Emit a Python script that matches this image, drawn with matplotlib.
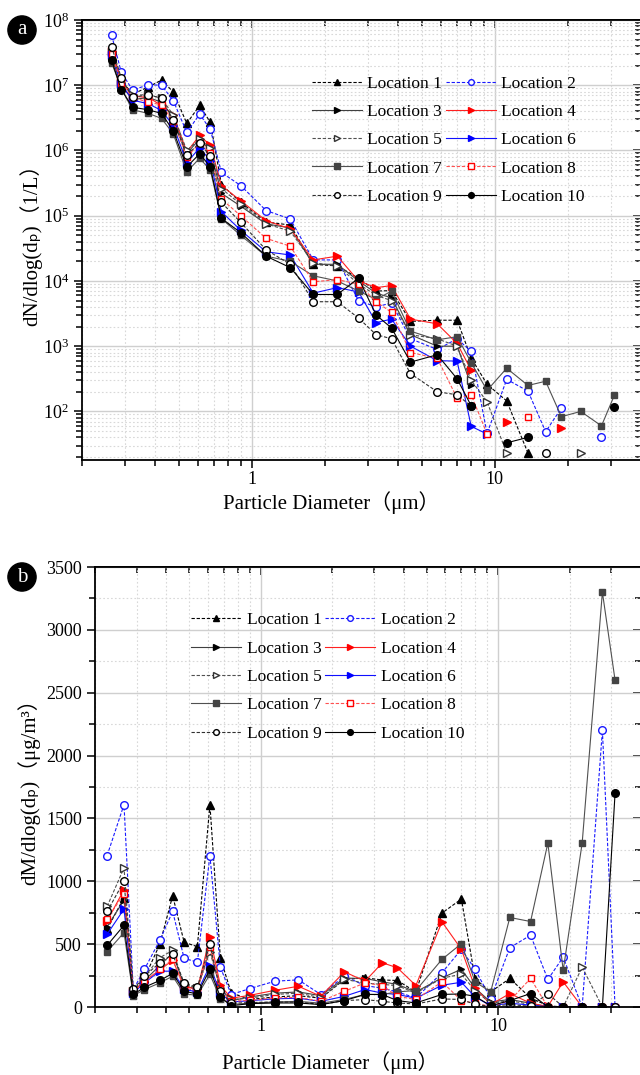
import numpy as np
import matplotlib
matplotlib.use('Agg')
import matplotlib.pyplot as plt
from matplotlib.ticker import LogLocator, MultipleLocator, NullFormatter, FuncFormatter

plt.rcParams['font.family'] = ['Liberation Serif', 'Noto Sans CJK SC', 'DejaVu Sans']
plt.rcParams['mathtext.fontset'] = 'custom'
plt.rcParams['mathtext.rm'] = 'Liberation Serif'
plt.rcParams['mathtext.it'] = 'Liberation Serif:italic'

nan = np.nan

# ---------------- data ----------------
labels = ['Location %d' % i for i in range(1, 11)]

# panel a: number size distribution
dia_a = [0.265, 0.29, 0.323, 0.375, 0.425, 0.475, 0.54, 0.61, 0.675, 0.75, 0.9, 1.145, 1.44,
         1.79, 2.25, 2.75, 3.25, 3.76, 4.5, 5.8, 7.0, 8.0, 9.3, 11.2, 13.7, 16.2, 18.8, 22.6, 27.5, 31.1]

num_1 = [3.5e7, 1.2e7, 7.3e6, 9.4e6, 1.2e7, 7.9e6, 2.6e6, 4.9e6, 2.7e6, 3.0e5, 1.6e5, 8.0e4, 7.2e4,
         1.8e4, 1.7e4, 1.1e4, 7.0e3, 7.1e3, 2.4e3, 2.5e3, 2.5e3, 660, 260, 145, 23, nan, nan, nan, nan, nan]
num_2 = [5.8e7, 1.6e7, 8.4e6, 1.02e7, 1.0e7, 5.8e6, 1.9e6, 3.6e6, 2.1e6, 4.6e5, 2.9e5, 1.2e5, 8.9e4,
         2.1e4, 2.1e4, 5.0e3, 4.0e3, 4.6e3, 1.3e3, 890, 1.3e3, 830, 46, 310, 205, 49, 112, nan, 41, nan]
num_3 = [2.7e7, 1.0e7, 6.0e6, 6.5e6, 5.5e6, 3.2e6, 9.0e5, 1.5e6, 1.0e6, 2.2e5, 1.4e5, 7.5e4, 6.5e4,
         1.8e4, 1.8e4, 1.0e4, 6.5e3, 5.5e3, 1.5e3, 1.0e3, 1.0e3, 250, nan, nan, nan, nan, nan, nan, nan, nan]
num_4 = [3.3e7, 1.2e7, 6.8e6, 6.5e6, 4.9e6, 3.5e6, 9.5e5, 1.7e6, 1.2e6, 2.9e5, 1.7e5, 8.4e4, 6.3e4,
         2.1e4, 2.4e4, 1.0e4, 7.9e3, 8.5e3, 2.6e3, 2.2e3, 1.1e3, 430, nan, 68, nan, nan, 55, nan, nan, nan]
num_5 = [3.2e7, 1.1e7, 7.0e6, 7.2e6, 6.3e6, 3.5e6, 1.0e6, 1.5e6, 1.1e6, 2.6e5, 1.5e5, 7.5e4, 5.8e4,
         1.9e4, 1.7e4, 9.0e3, 6.0e3, 5.0e3, 1.5e3, 1.3e3, 1.0e3, 300, 140, 23, nan, nan, nan, 23, nan, nan]
num_6 = [2.9e7, 1.05e7, 5.9e6, 5.2e6, 4.1e6, 2.4e6, 6.5e5, 1.1e6, 7.0e5, 1.15e5, 6.0e4, 2.8e4, 2.5e4,
         6.5e3, 7.9e3, 6.8e3, 2.3e3, 2.6e3, 1.0e3, 600, 590, 59, 45, nan, nan, nan, nan, nan, nan, nan]
num_7 = [2.2e7, 9.0e6, 4.2e6, 3.7e6, 3.1e6, 1.8e6, 4.7e5, 7.6e5, 5.0e5, 9.0e4, 5.0e4, 2.4e4, 2.0e4,
         1.2e4, 1.0e4, 7.0e3, 5.2e3, 7.0e3, 1.7e3, 1.25e3, 1.4e3, 560, 210, 460, 250, 290, 83, 100, 60, 178]
num_8 = [3.0e7, 1.1e7, 6.5e6, 5.5e6, 5.0e6, 2.8e6, 8.0e5, 1.3e6, 9.0e5, 1.8e5, 1.0e5, 4.5e4, 3.4e4,
         9.7e3, 1.05e4, 8.9e3, 4.8e3, 3.3e3, 800, 650, 160, 180, 45, nan, 81, nan, nan, nan, nan, nan]
num_9 = [3.9e7, 1.3e7, 6.5e6, 7.2e6, 6.3e6, 2.9e6, 8.5e5, 1.3e6, 8.2e5, 1.6e5, 7.9e4, 3.0e4, 1.8e4,
         4.8e3, 4.8e3, 2.7e3, 1.5e3, 1.3e3, 380, 200, 180, 120, nan, nan, nan, 23, nan, nan, nan, nan]
num_10 = [2.4e7, 8.6e6, 4.6e6, 4.2e6, 3.7e6, 2.0e6, 5.6e5, 8.9e5, 5.6e5, 9.1e4, 5.5e4, 2.4e4, 1.6e4,
          6.2e3, 6.2e3, 1.1e4, 3.0e3, 1.9e3, 570, 740, 316, 122, nan, 33, 40, nan, nan, nan, nan, 118]

# panel b: mass size distribution
dia_b = [0.225] + dia_a

mass_1 = [620, 870, 130, 230, 499, 885, 515, 480, 1610, 392, 112, 60, 80, 90, 70, 219, 232, 215,
          211, 120, 747, 859, 224, 120, 227, 72, 10, 0, 0, 0, 0]
mass_2 = [1205, 1610, 139, 299, 531, 760, 387, 357, 1205, 317, 99, 147, 205, 216, 99, 245, 170, 150,
          120, 72, 272, 459, 299, 67, 472, 571, 219, 397, 0, 2200, 0]
mass_3 = [640, 850, 120, 210, 330, 430, 170, 140, 460, 150, 50, 80, 110, 120, 90, 230, 227, 200,
          180, 120, 232, 300, 150, 40, 60, 30, 0, 0, 0, 0, 0]
mass_4 = [685, 933, 125, 205, 293, 373, 165, 140, 557, 173, 70, 93, 133, 165, 85, 280, 205, 352,
          312, 171, 677, 459, 152, 19, 107, 30, 5, 200, 0, 0, 0]
mass_5 = [800, 1107, 130, 240, 392, 451, 180, 150, 440, 150, 60, 70, 100, 110, 75, 220, 190, 180,
          170, 110, 230, 260, 130, 30, 50, 20, 0, 0, 317, 0, 0]
mass_6 = [579, 779, 110, 192, 285, 285, 140, 120, 330, 110, 40, 50, 65, 70, 45, 85, 139, 110,
          100, 70, 173, 197, 80, 10, 30, 15, 0, 0, 0, 0, 0]
mass_7 = [440, 592, 90, 139, 192, 245, 104, 93, 259, 67, 20, 30, 40, 45, 30, 60, 100, 100,
          120, 131, 379, 504, 200, 120, 712, 680, 1304, 291, 1304, 3300, 2600]
mass_8 = [700, 900, 120, 200, 300, 380, 150, 130, 480, 140, 45, 53, 72, 77, 45, 125, 192, 171,
          85, 60, 200, 51, 30, 5, 50, 227, 0, 0, 0, 0, 0]
mass_9 = [760, 1000, 140, 245, 352, 419, 189, 157, 499, 125, 30, 35, 40, 40, 20, 51, 59, 45,
          32, 24, 64, 60, 20, 5, 20, 5, 107, 0, 0, 0, 0]
mass_10 = [490, 650, 100, 157, 211, 267, 125, 104, 299, 80, 10, 27, 32, 32, 19, 51, 100, 99,
           51, 32, 100, 104, 85, 10, 51, 107, 0, 0, 0, 0, 1700]

num_all = [num_1, num_2, num_3, num_4, num_5, num_6, num_7, num_8, num_9, num_10]
mass_all = [mass_1, mass_2, mass_3, mass_4, mass_5, mass_6, mass_7, mass_8, mass_9, mass_10]

dash = (0, (3, 1.6))
styles = [
    dict(color='black', ls=dash, marker='^', mfc='black', mec='black', ms=6),
    dict(color='#1a1aff', ls=dash, marker='o', mfc='white', mec='#1a1aff', ms=5.5),
    dict(color='#404040', ls='-', marker='>', mfc='black', mec='black', ms=5),
    dict(color='#ff2020', ls='-', marker='>', mfc='#ff0000', mec='#ff0000', ms=6),
    dict(color='#505050', ls=dash, marker='>', mfc='white', mec='#333333', ms=6),
    dict(color='#1010ff', ls='-', marker='>', mfc='#0000ff', mec='#0000ff', ms=6),
    dict(color='#505050', ls='-', marker='s', mfc='#444444', mec='#444444', ms=5),
    dict(color='#ff5050', ls=dash, marker='s', mfc='white', mec='#ff0000', ms=5),
    dict(color='#303030', ls=dash, marker='o', mfc='white', mec='black', ms=5.5),
    dict(color='black', ls='-', marker='o', mfc='black', mec='black', ms=5.5),
]

W, H = 640, 1075
fig = plt.figure(figsize=(W / 100, H / 100), dpi=100)


def px_axes(x0, y0, x1, y1):
    return fig.add_axes([x0 / W, 1 - y1 / H, (x1 - x0) / W, (y1 - y0) / H])


def dress(ax, log_y):
    ax.set_xscale('log')
    ax.set_xlim(0.2, 40)
    ax.xaxis.set_major_locator(LogLocator(base=10, numticks=20))
    ax.xaxis.set_minor_locator(LogLocator(base=10, subs=np.arange(2, 10), numticks=20))
    ax.xaxis.set_major_formatter(FuncFormatter(lambda v, p: '%g' % v))
    ax.xaxis.set_minor_formatter(NullFormatter())
    ax.grid(True, which='major', color='#cfcfcf', lw=1.0, ls='-')
    ax.grid(True, which='minor', color='#d8d8d8', lw=0.8, ls=(0, (1.5, 2)))
    ax.set_axisbelow(True)
    for s in ax.spines.values():
        s.set_linewidth(1.3)
    ax.tick_params(which='both', direction='out', labelsize=13, width=1.1, top=False, right=False)
    ax.tick_params(which='major', length=6)
    ax.tick_params(which='minor', length=4)
    ax.tick_params(axis='x', which='major', pad=2)
    # mirrored top / right ticks pointing inward
    sx = ax.secondary_xaxis('top')
    sx.tick_params(which='both', direction='in', labeltop=False, width=1.1)
    sx.tick_params(which='major', length=6)
    sx.tick_params(which='minor', length=4)
    sx.xaxis.set_minor_formatter(NullFormatter())
    sy = ax.secondary_yaxis('right')
    sy.tick_params(which='both', direction='in', labelright=False, width=1.1)
    sy.tick_params(which='major', length=6)
    sy.tick_params(which='minor', length=4)
    if log_y:
        sy.yaxis.set_minor_formatter(NullFormatter())
    else:
        sy.yaxis.set_major_locator(MultipleLocator(500))
        sy.yaxis.set_minor_locator(MultipleLocator(250))
    sx.spines['top'].set_linewidth(1.3)
    sy.spines['right'].set_linewidth(1.3)


def legend(ax, x, y):
    h, l = ax.get_legend_handles_labels()
    order = [0, 2, 4, 6, 8, 1, 3, 5, 7, 9]
    ax.legend([h[i] for i in order], [l[i] for i in order], ncol=2, loc='upper left',
              bbox_to_anchor=(x, y), frameon=False, fontsize=12.5, handlelength=2.9,
              handletextpad=0.3, columnspacing=0.2, labelspacing=0.7, markerscale=0.75,
              borderpad=0, borderaxespad=0)


# ---------------- panel a ----------------
ax1 = px_axes(82, 20, 641, 460)
for vals, lab, st in zip(num_all, labels, styles):
    ax1.plot(dia_a, vals, lw=0.8, label=lab, **st)
ax1.set_yscale('log')
ax1.set_ylim(18, 1e8)
ax1.yaxis.set_major_locator(LogLocator(base=10, numticks=20))
ax1.yaxis.set_minor_locator(LogLocator(base=10, subs=np.arange(2, 10), numticks=20))
ax1.yaxis.set_minor_formatter(NullFormatter())
dress(ax1, True)
ax1.set_ylabel('dN/dlog(dₚ)（1/L）', fontsize=15)
ax1.yaxis.set_label_coords(-0.072, 0.5)
ax1.set_xlabel('Particle Diameter（μm）', fontsize=15)
ax1.xaxis.set_label_coords(0.445, -0.07)
legend(ax1, 0.411, 0.874)

# ---------------- panel b ----------------
ax2 = px_axes(95, 567, 641, 1007)
for vals, lab, st in zip(mass_all, labels, styles):
    ax2.plot(dia_b, vals, lw=0.8, label=lab, **st)
ax2.set_ylim(0, 3500)
ax2.yaxis.set_major_locator(MultipleLocator(500))
ax2.yaxis.set_minor_locator(MultipleLocator(250))
dress(ax2, False)
ax2.set_ylabel('dM/dlog(dₚ)（μg/m³）', fontsize=15)
ax2.yaxis.set_label_coords(-0.10, 0.5)
ax2.set_xlabel('Particle Diameter（μm）', fontsize=15)
ax2.xaxis.set_label_coords(0.43, -0.1)
legend(ax2, 0.176, 0.897)

# panel tags
for tag, (x, y) in zip(['a', 'b'], [(22, 30), (22, 577)]):
    fig.text(x / W, 1 - y / H, tag, ha='center', va='center', color='white', fontsize=15,
             bbox=dict(boxstyle='circle,pad=0.22', fc='black', ec='black'))

fig.savefig('out.png', dpi=100)
